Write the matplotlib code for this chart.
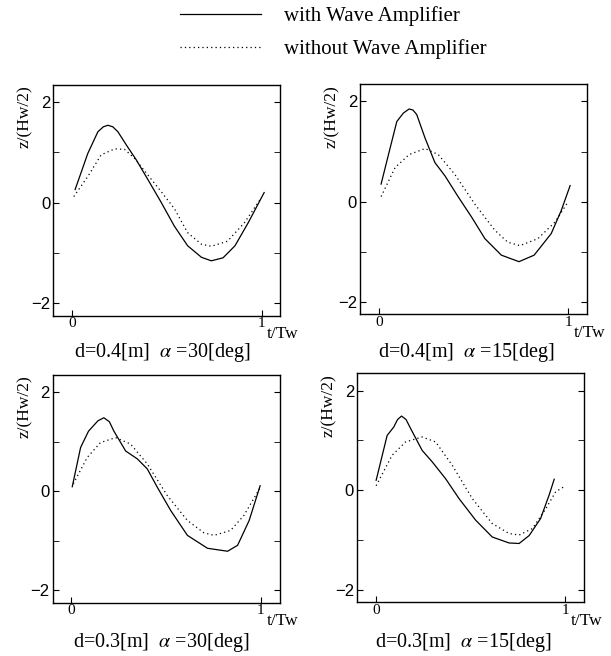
import matplotlib
matplotlib.use('Agg')
from matplotlib import pyplot as plt

plt.rcParams['font.family'] = ['Liberation Serif', 'DejaVu Serif']
plt.rcParams['mathtext.fontset'] = 'stix'

# t/Tw and z/(Hw/2)
# d=0.4 m, alpha=30 deg
t_a_with = [0.016, 0.083, 0.136, 0.165, 0.189, 0.215, 0.242, 0.286, 0.339, 0.40, 0.471, 0.54, 0.61, 0.683, 0.735, 0.797, 0.86, 0.93, 1.014]
z_a_with = [0.26, 0.98, 1.41, 1.51, 1.54, 1.51, 1.41, 1.15, 0.85, 0.46, 0.0, -0.47, -0.86, -1.09, -1.16, -1.10, -0.86, -0.40, 0.20]
t_a_without = [0.009, 0.083, 0.153, 0.224, 0.277, 0.33, 0.40, 0.47, 0.54, 0.61, 0.683, 0.735, 0.82, 0.91, 1.0]
z_a_without = [0.12, 0.52, 0.95, 1.07, 1.06, 0.88, 0.55, 0.22, -0.12, -0.6, -0.83, -0.87, -0.77, -0.40, 0.10]

# d=0.4 m, alpha=15 deg
t_b_with = [0.012, 0.051, 0.095, 0.13, 0.16, 0.18, 0.2, 0.244, 0.296, 0.35, 0.42, 0.49, 0.56, 0.647, 0.74, 0.82, 0.91, 0.963, 1.01]
z_b_with = [0.35, 0.94, 1.60, 1.77, 1.85, 1.83, 1.74, 1.27, 0.78, 0.51, 0.09, -0.31, -0.74, -1.07, -1.20, -1.07, -0.64, -0.18, 0.32]
t_b_without = [0.012, 0.086, 0.16, 0.244, 0.314, 0.40, 0.507, 0.612, 0.68, 0.745, 0.84, 0.93, 1.0]
z_b_without = [0.10, 0.68, 0.94, 1.06, 0.94, 0.55, -0.05, -0.57, -0.81, -0.88, -0.74, -0.41, 0.0]

# d=0.3 m, alpha=30 deg
t_c_with = [0.004, 0.048, 0.09, 0.14, 0.171, 0.20, 0.224, 0.286, 0.348, 0.40, 0.453, 0.524, 0.612, 0.718, 0.824, 0.877, 0.938, 0.996]
z_c_with = [0.09, 0.88, 1.21, 1.42, 1.48, 1.40, 1.21, 0.81, 0.65, 0.45, 0.08, -0.39, -0.89, -1.15, -1.21, -1.09, -0.59, 0.11]
t_c_without = [0.01, 0.083, 0.153, 0.233, 0.312, 0.40, 0.506, 0.612, 0.70, 0.753, 0.84, 0.91, 0.996]
z_c_without = [0.15, 0.68, 0.98, 1.08, 0.95, 0.55, -0.09, -0.59, -0.84, -0.89, -0.79, -0.49, 0.07]

# d=0.3 m, alpha=15 deg
t_d_with = [0.002, 0.06, 0.095, 0.115, 0.136, 0.16, 0.184, 0.245, 0.298, 0.369, 0.44, 0.527, 0.615, 0.704, 0.757, 0.81, 0.87, 0.915, 0.942]
z_d_with = [0.20, 1.1, 1.27, 1.42, 1.49, 1.42, 1.24, 0.80, 0.57, 0.23, -0.17, -0.60, -0.94, -1.06, -1.07, -0.91, -0.57, -0.10, 0.22]
t_d_without = [0.002, 0.086, 0.157, 0.245, 0.316, 0.404, 0.51, 0.615, 0.704, 0.757, 0.827, 0.898, 0.95, 1.003]
z_d_without = [0.09, 0.70, 0.97, 1.07, 0.97, 0.50, -0.17, -0.67, -0.87, -0.90, -0.77, -0.37, -0.03, 0.09]

titles = [r'd=0.4[m]  $\alpha$ =30[deg]', r'd=0.4[m]  $\alpha$ =15[deg]',
          r'd=0.3[m]  $\alpha$ =30[deg]', r'd=0.3[m]  $\alpha$ =15[deg]']
series = [(t_a_with, z_a_with, t_a_without, z_a_without),
          (t_b_with, z_b_with, t_b_without, z_b_without),
          (t_c_with, z_c_with, t_c_without, z_c_without),
          (t_d_with, z_d_with, t_d_without, z_d_without)]

fig = plt.figure(figsize=(6.11, 6.56), dpi=100)
rects = [[0.087, 0.519, 0.372, 0.352], [0.589, 0.521, 0.372, 0.351],
         [0.086, 0.081, 0.372, 0.348], [0.584, 0.082, 0.372, 0.349]]
title_pos = [(0.48, -0.16), (0.467, -0.165), (0.48, -0.175), (0.47, -0.175)]

dotted = (0, (1, 2.5))
for i, ax_rect in enumerate(rects):
    ax = fig.add_axes(ax_rect)
    tw, zw, tn, zn = series[i]
    l1, = ax.plot(tw, zw, color='black', lw=0.9)
    l2, = ax.plot(tn, zn, color='black', lw=0.9, linestyle=dotted)
    ax.set_xlim(-0.1, 1.1)
    ax.set_ylim(-2.25, 2.35)
    ax.set_xticks([0, 1])
    ax.set_yticks([-2, 0, 2])
    ax.set_yticks([-1, 1], minor=True)
    ax.set_yticklabels(['\u22122', '0', '2'], family='Liberation Sans')
    ax.tick_params(axis='y', which='both', direction='in', right=True, labelsize=12, length=4, pad=2)
    ax.tick_params(axis='x', direction='in', labelsize=11, length=4, pad=1)
    for s in ax.spines.values():
        s.set_linewidth(1.0)
    ax.set_ylabel('z/(Hw/2)', fontsize=12.5)
    ax.yaxis.set_label_coords(-0.088, 0.86)
    ax.set_xlabel('t/Tw', fontsize=12.5)
    ax.xaxis.set_label_coords(1.01, -0.045)
    ax.text(title_pos[i][0], title_pos[i][1], titles[i], transform=ax.transAxes,
            ha='center', va='center', fontsize=14.5)
    if i == 0:
        handles = [l1, l2]

fig.legend(handles, ['with Wave Amplifier', 'without Wave Amplifier'],
           loc='upper left', bbox_to_anchor=(180 / 611, 1 - 6 / 656),
           frameon=False, fontsize=15, handlelength=3.9, handletextpad=1.1,
           labelspacing=0.65, borderpad=0, borderaxespad=0)

fig.savefig('out.png', dpi=100)
